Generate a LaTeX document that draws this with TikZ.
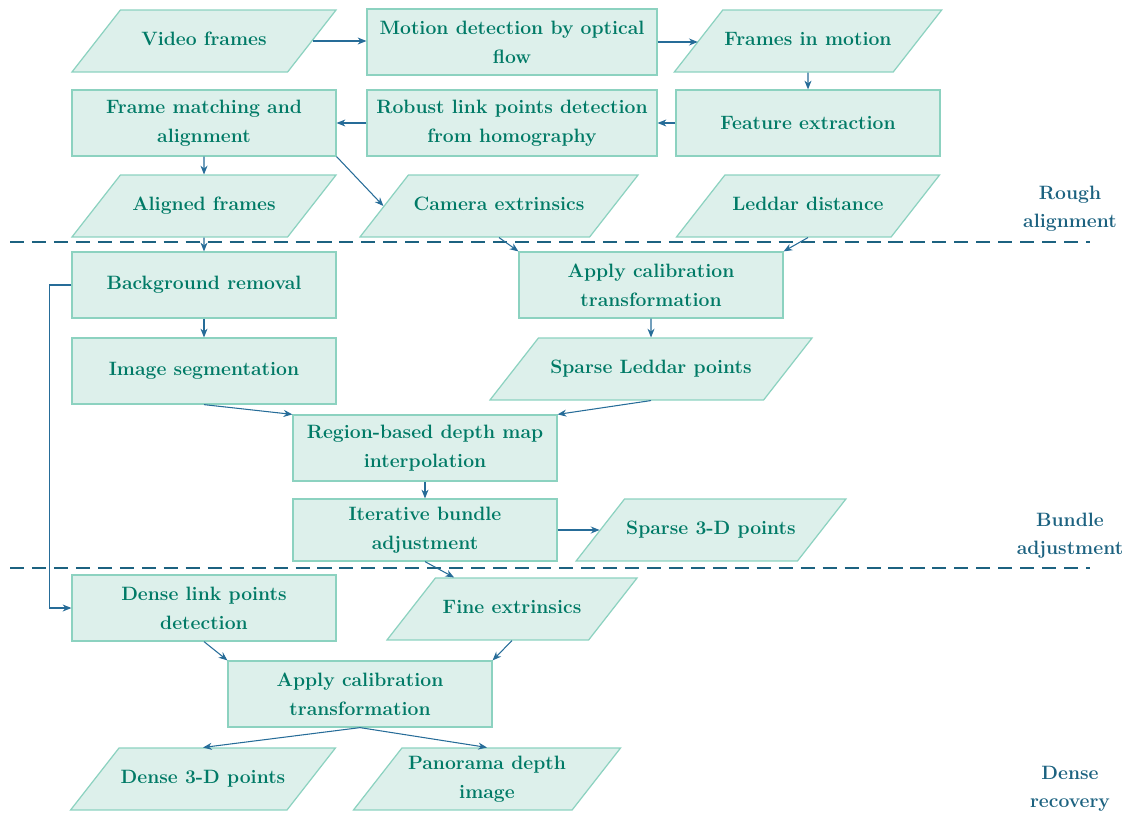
\documentclass[tikz,border=0pt]{standalone}
\usepackage{tikz}
\usetikzlibrary{shapes.geometric,arrows.meta,calc}

\definecolor{boxfill}{RGB}{221,240,235}
\definecolor{boxline}{RGB}{140,210,192}
\definecolor{boxtext}{RGB}{0,122,102}
\definecolor{flowblue}{RGB}{38,108,152}
\definecolor{stageblue}{RGB}{28,98,128}

\tikzset{
  procbox/.style={rectangle, draw=boxline, fill=boxfill, text=boxtext,
    font=\fontsize{11}{16.5}\selectfont\bfseries, align=center,
    minimum width=5.28cm, minimum height=1.32cm, inner sep=1pt, line width=0.7pt},
  databox/.style={trapezium, trapezium left angle=52, trapezium right angle=128,
    trapezium stretches body, draw=boxline, fill=boxfill, text=boxtext,
    font=\fontsize{11}{16.5}\selectfont\bfseries, align=center,
    text height=8pt, text depth=2.5pt, inner xsep=1pt, inner ysep=12.35pt,
    line width=0.7pt},
  flow/.style={-{Stealth[length=5pt,width=4pt]}, draw=flowblue, line width=0.6pt},
  stageline/.style={draw=stageblue, dash pattern=on 8pt off 4.5pt, line width=0.9pt},
  stagelabel/.style={text=stageblue, font=\fontsize{11}{16}\selectfont\bfseries, align=center}
}

\begin{document}
\begin{tikzpicture}[x=0.02cm, y=-0.02cm]
  \useasboundingbox (0,0) rectangle (1129,819);

  % Rough alignment
  \node[databox, minimum width=5.28cm] (vf) at (204,41) {Video frames};
  \node[procbox, minimum width=5.8cm] (md) at (512,42) {Motion detection by optical\\flow};
  \node[databox, minimum width=5.26cm] (fim) at (808,41) {Frames in motion};
  \node[procbox] (fm) at (204,123) {Frame matching and\\alignment};
  \node[procbox, minimum width=5.8cm] (rl) at (512,123) {Robust link points detection\\from homography};
  \node[procbox] (fe) at (808,123) {Feature extraction};
  \node[databox, minimum width=5.28cm] (af) at (204,206) {Aligned frames};
  \node[databox, minimum width=5.56cm] (ce) at (499,206) {Camera extrinsics};
  \node[databox, minimum width=5.26cm] (ld) at (808,206) {Leddar distance};

  % Bundle adjustment
  \node[procbox] (br) at (204,285) {Background removal};
  \node[procbox] (ac) at (651,285) {Apply calibration\\transformation};
  \node[procbox] (is) at (204,371) {Image segmentation};
  \node[databox, minimum width=6.44cm] (sl) at (651,369) {Sparse Leddar points};
  \node[procbox] (rb) at (425,448) {Region-based depth map\\interpolation};
  \node[procbox, minimum height=1.24cm] (ib) at (425,530) {Iterative bundle\\adjustment};
  \node[databox, minimum width=5.24cm] (sp) at (711,530) {Sparse 3-D points};

  % Dense recovery
  \node[procbox] (dl) at (204,608) {Dense link points\\detection};
  \node[databox, minimum width=5.0cm] (fx) at (512,609) {Fine extrinsics};
  \node[procbox] (act) at (360,694) {Apply calibration\\transformation};
  \node[databox, minimum width=5.1cm] (dp) at (203,779) {Dense 3-D points};
  \node[databox, minimum width=5.34cm, text height=24.5pt, inner ysep=4.1pt] (pd) at (487,779) {Panorama depth\\image};

  % stage separators and labels
  \draw[stageline] (10,242) -- (1090,242);
  \draw[stageline] (10,568) -- (1090,568);
  \node[stagelabel] (lrough) at (1070,209) {Rough\\alignment};
  \node[stagelabel] (lbundle) at (1070,536) {Bundle\\adjustment};
  \node[stagelabel] (ldense) at (1070,789) {Dense\\recovery};

  % connectors
  \draw[flow] (vf.east) -- (vf.east -| md.west);
  \draw[flow] (md.east) -- (md.east -| fim.west);
  \draw[flow] (fim.south) -- (fe.north);
  \draw[flow] (fe.west) -- (rl.east);
  \draw[flow] (rl.west) -- (fm.east);
  \draw[flow] (fm.south) -- (af.north);
  \draw[flow] (fm.south east) -- (ce.west);
  \draw[flow] (af.south) -- (br.north);
  \draw[flow] (ce.south) -- (ac.north west);
  \draw[flow] (ld.south) -- (ac.north east);
  \draw[flow] (ac.south) -- (sl.north);
  \draw[flow] (br.south) -- (is.north);
  \draw[flow] (br.west) -- ++(-22,0) |- (dl.west);
  \draw[flow] (is.south) -- (rb.north west);
  \draw[flow] (sl.south) -- (rb.north east);
  \draw[flow] (rb.south) -- (ib.north);
  \draw[flow] (ib.east) -- (ib.east -| sp.west);
  \draw[flow] (ib.south) -- (fx);
  \draw[flow] (dl.south) -- (act.north west);
  \draw[flow] (fx.south) -- (act.north east);
  \draw[flow] (act.south) -- (dp.north);
  \draw[flow] (act.south) -- (pd.north);
\end{tikzpicture}
\end{document}
